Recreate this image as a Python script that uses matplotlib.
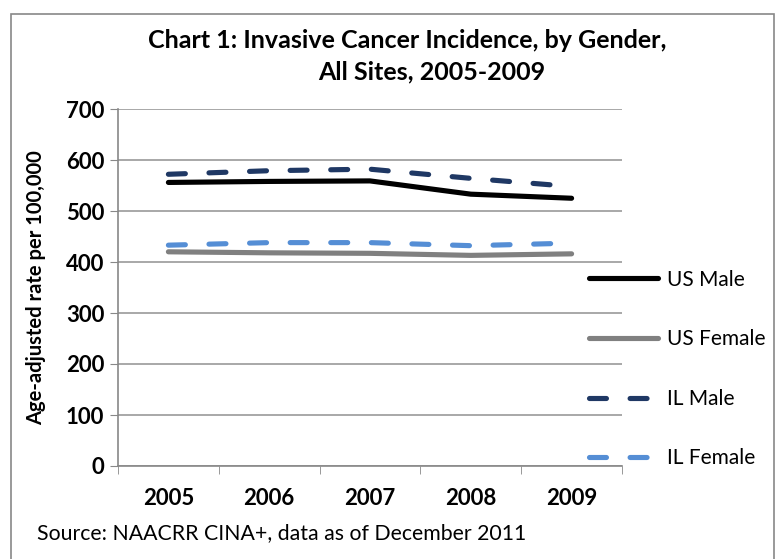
import matplotlib
matplotlib.use("Agg")
import matplotlib.pyplot as plt
from matplotlib.patches import Rectangle

years = ["2005", "2006", "2007", "2008", "2009"]
us_male = [556, 558, 559, 533, 525]
us_female = [420, 418, 417, 413, 416]
il_male = [572, 579, 582, 564, 548]
il_female = [433, 438, 438, 432, 437]
yticks = [0, 100, 200, 300, 400, 500, 600, 700]

plt.rcParams['font.family'] = ['Lato', 'DejaVu Sans']

W, H = 781, 559
fig = plt.figure(figsize=(W/100, H/100), dpi=100)
ax = fig.add_axes([118/W, 1-466/H, (622-118)/W, (466-109)/H])

x = list(range(len(years)))
lw = 3.7
ax.plot(x, us_male, color='black', lw=lw, solid_capstyle='round', label='US Male')
ax.plot(x, us_female, color='#808080', lw=lw, solid_capstyle='round', label='US Female')
ax.plot(x, il_male, color='#1f3864', lw=lw, dashes=(3.3, 4.6), dash_capstyle='round', label='IL Male')
ax.plot(x, il_female, color='#558ed5', lw=lw, dashes=(3.3, 4.6), dash_capstyle='round', label='IL Female')

ax.set_xlim(-0.5, 4.5)
ax.set_ylim(0, 700)
ax.set_yticks(yticks)
ax.set_yticklabels([str(v) for v in yticks], fontsize=16, fontweight='bold')
ax.set_xticks(x)
ax.set_xticklabels(years, fontsize=16, fontweight='bold')
ax.set_xticks([i - 0.5 for i in range(len(years) + 1)], minor=True)
ax.tick_params(axis='x', which='major', length=0, pad=16)
ax.tick_params(axis='x', which='minor', length=6, color='#888888', direction='out')
ax.tick_params(axis='y', length=6, color='#888888', direction='out', pad=4)
ax.grid(axis='y', color='#999999', lw=1.2)
for s in ['top', 'right']:
    ax.spines[s].set_visible(False)
for s in ['left', 'bottom']:
    ax.spines[s].set_color('#888888')
    ax.spines[s].set_linewidth(1.2)
ax.set_ylabel('Age-adjusted rate per 100,000', fontsize=14.5, fontweight='bold', labelpad=14)

leg = fig.legend(loc='upper left', bbox_to_anchor=(570/W, 1-251/H), frameon=False,
                 fontsize=15, handlelength=3.3, labelspacing=1.9, handletextpad=0.45)

fig.text(407/W, 1-40/H, 'Chart 1: Invasive Cancer Incidence, by Gender,', ha='center', va='center',
         fontsize=18, fontweight='bold')
fig.text(432/W, 1-72/H, 'All Sites, 2005-2009', ha='center', va='center',
         fontsize=18, fontweight='bold')
fig.text(37/W, 1-533/H, 'Source: NAACRR CINA+, data as of December 2011', ha='left', va='center',
         fontsize=15.3)

fig.patches.append(Rectangle((11/W, -0.05), (774-11)/W, 1.05 - 14/H, transform=fig.transFigure,
                             fill=False, edgecolor='#888888', lw=1.2))

fig.savefig('out.png', dpi=100)
